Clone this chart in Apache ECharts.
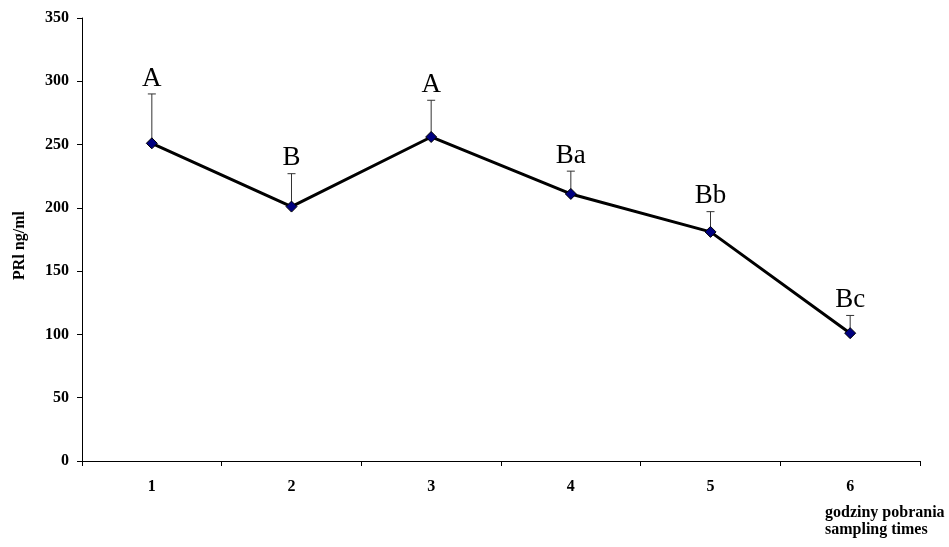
<!DOCTYPE html>
<html><head><meta charset="utf-8">
<script src="https://cdn.jsdelivr.net/npm/echarts@6/dist/echarts.min.js"></script>
<style>html,body{margin:0;padding:0;background:#fff}#c{width:949px;height:547px}</style>
</head><body><div id="c"></div>
<script>
const categories = ['1','2','3','4','5','6'];
const means = [251, 201, 256, 211, 181, 101];
const errTop = [290, 227, 285, 229, 197, 115];
const groupLabels = ['A','B','A','Ba','Bb','Bc'];
const yTicks = [0,50,100,150,200,250,300,350];

const chart = echarts.init(document.getElementById('c'), null, {renderer:'canvas'});
const serif = 'Liberation Serif, Times New Roman, serif';
chart.setOption({
  animation:false,
  backgroundColor:'#fff',
  grid:{left:82,right:29,top:18,bottom:86},
  xAxis:{type:'category',data:categories,boundaryGap:true,
    axisLine:{lineStyle:{color:'#000',width:1}},
    axisTick:{show:true,length:5,alignWithLabel:false,lineStyle:{color:'#000'}},
    axisLabel:{margin:18,fontFamily:serif,fontWeight:'bold',fontSize:16,color:'#000'}},
  yAxis:{type:'value',min:yTicks[0],max:yTicks[yTicks.length-1],interval:50,
    name:'PRl ng/ml',nameLocation:'middle',nameRotate:90,nameGap:54,
    nameTextStyle:{fontFamily:serif,fontWeight:'bold',fontSize:16,color:'#000',padding:[0,12,0,0]},
    splitLine:{show:false},
    axisLine:{show:true,lineStyle:{color:'#000',width:1}},
    axisTick:{show:true,length:5,lineStyle:{color:'#000'}},
    axisLabel:{margin:13,fontFamily:serif,fontWeight:'bold',fontSize:16,color:'#000'}},
  graphic:[{type:'text',left:825,top:504,style:{text:'godziny pobrania\nsampling times',font:'bold 16px '+serif,fill:'#000',lineHeight:17}}],
  series:[
    {type:'custom',z:1,data:categories.map((c,i)=>[i,means[i],errTop[i]]),
      renderItem:function(params,api){
        const p0=api.coord([api.value(0),api.value(1)]);
        const p1=api.coord([api.value(0),api.value(2)]);
        return {type:'group',children:[
          {type:'line',shape:{x1:p0[0],y1:p0[1],x2:p1[0],y2:p1[1]},style:{stroke:'#333',lineWidth:1}},
          {type:'line',shape:{x1:p1[0]-4,y1:p1[1],x2:p1[0]+4,y2:p1[1]},style:{stroke:'#333',lineWidth:1}},
          {type:'text',style:{x:p1[0],y:p1[1]-2,text:groupLabels[params.dataIndex],textAlign:'center',textVerticalAlign:'bottom',font:'27px '+serif,fill:'#000'}}
        ]};
      }},
    {type:'line',z:3,data:means,symbol:'diamond',symbolSize:11,
      lineStyle:{color:'#000',width:3},
      itemStyle:{color:'#000080',borderColor:'#000',borderWidth:1}}
  ]
});
</script></body></html>
